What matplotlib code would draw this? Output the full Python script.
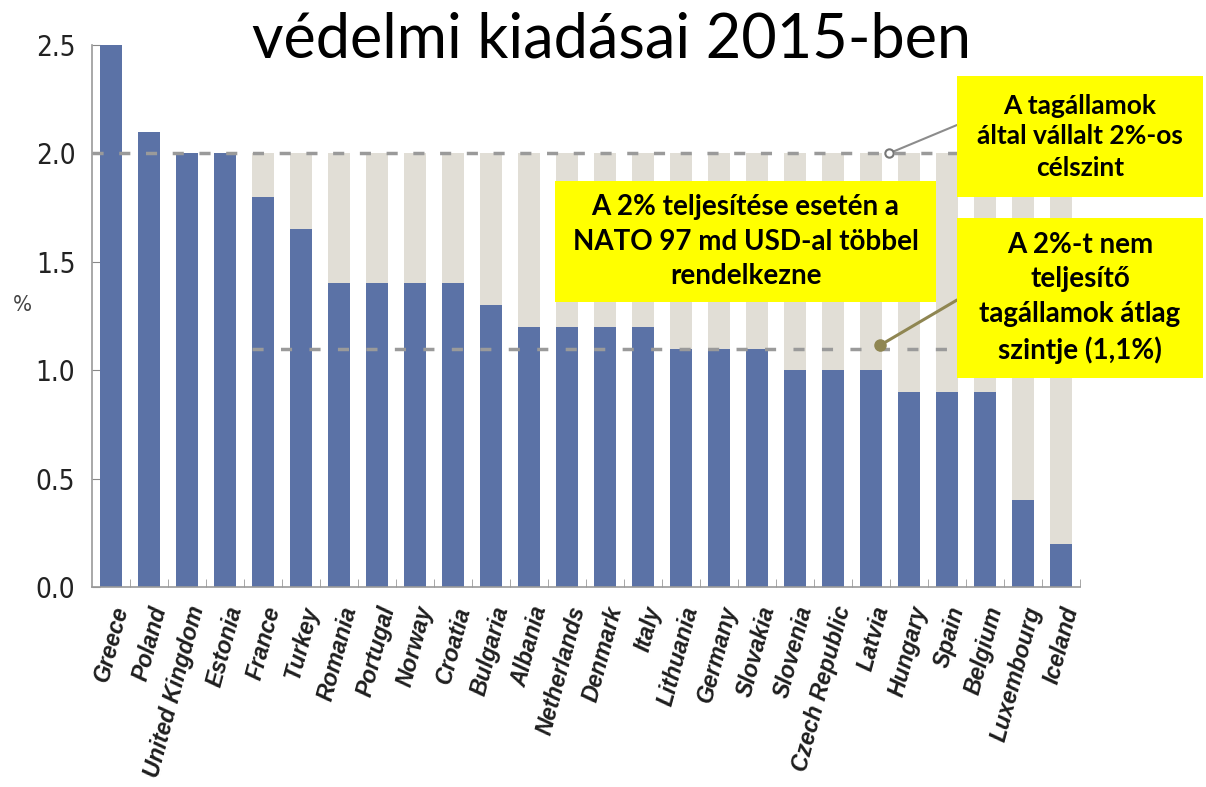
"""NATO tagállamok védelmi kiadásai 2015-ben (GDP %)."""

import matplotlib
matplotlib.use("Agg")
import matplotlib.pyplot as plt
from matplotlib.patches import Rectangle

countries = ["Greece", "Poland", "United Kingdom", "Estonia", "France", "Turkey",
             "Romania", "Portugal", "Norway", "Croatia", "Bulgaria", "Albania",
             "Netherlands", "Denmark", "Italy", "Lithuania", "Germany", "Slovakia",
             "Slovenia", "Czech Republic", "Latvia", "Hungary", "Spain", "Belgium",
             "Luxembourg", "Iceland"]
spending = [2.5, 2.1, 2.0, 2.0, 1.8, 1.65, 1.4, 1.4, 1.4, 1.4, 1.3, 1.2, 1.2, 1.2,
            1.2, 1.1, 1.1, 1.1, 1.0, 1.0, 1.0, 0.9, 0.9, 0.9, 0.4, 0.2]
target = 2.0
avg_below = 1.1
yticks = [0.0, 0.5, 1.0, 1.5, 2.0, 2.5]

title = "védelmi kiadásai 2015-ben"
box_gap = "A 2% teljesítése esetén a\nNATO 97 md USD-al többel\nrendelkezne"
box_target = "A tagállamok\náltal vállalt 2%-os\ncélszint"
box_avg = "A 2%-t nem\nteljesítő\ntagállamok átlag\nszintje (1,1%)"

BLUE = "#5b72a6"
GREY = "#e1ded6"
YELLOW = "#ffff00"
NARROW = ["Liberation Sans Narrow", "DejaVu Sans Condensed", "DejaVu Sans"]

W, H = 1206, 787
fig = plt.figure(figsize=(W / 100, H / 100), dpi=100)
ax = fig.add_axes([92 / W, 1 - 587 / H, (1080 - 92) / W, (587 - 45) / H])

x = list(range(len(countries)))
gap = [max(target - v, 0) for v in spending]
ax.bar(x, spending, width=0.56, color=BLUE, zorder=2)
ax.bar(x, gap, bottom=spending, width=0.56, color=GREY, zorder=2)

# reference lines
ax.axhline(target, color="#9a9a9a", lw=2.5, ls=(0, (3.2, 4.5)), zorder=3)
first_below = next(i for i, v in enumerate(spending) if v < target)
ax.hlines(avg_below, first_below - 0.28, len(countries) - 0.5, color="#9a9a9a",
          lw=2.5, ls=(0, (3.2, 5)), zorder=3)

ax.set_xlim(-0.5, len(countries) - 0.5)
ax.set_ylim(0, 2.5)
ax.set_yticks(yticks)
ax.set_yticklabels([f"{t:.1f}" for t in yticks], family=NARROW,
                   fontstretch="condensed", fontsize=20, color="#222222")
ax.tick_params(axis="y", direction="in", length=6, color="#888888", pad=12)

ax.set_xticks(x)
ax.set_xticklabels(countries, rotation=75, ha="right", rotation_mode="anchor",
                   family="Liberation Sans", style="italic", fontweight="bold",
                   fontsize=16.5, color="#1e1e1e")
ax.tick_params(axis="x", length=0, pad=12)
ax.set_xticks([i + 0.5 for i in x[:-1]] + [len(countries) - 0.5], minor=True)
ax.tick_params(axis="x", which="minor", direction="in", length=6, color="#999999")

for side in ["top", "right"]:
    ax.spines[side].set_visible(False)
for side in ["left", "bottom"]:
    ax.spines[side].set_color("#999999")
    ax.spines[side].set_linewidth(1.2)

fig.text(22 / W, 1 - 305 / H, "%", fontsize=16, color="#444444", family=NARROW,
         fontstretch="condensed", ha="center", va="center")

fig.text(612 / W, 1 - 40 / H, title, fontsize=44, family="Lato", ha="center",
         va="center", color="black")


def yellow_box(x0, y0, x1, y1, text, size, spacing):
    fig.patches.append(Rectangle((x0 / W, 1 - y1 / H), (x1 - x0) / W, (y1 - y0) / H,
                                 transform=fig.transFigure, facecolor=YELLOW,
                                 edgecolor="none", zorder=5))
    fig.text((x0 + x1) / 2 / W, 1 - (y0 + y1) / 2 / H, text, ha="center",
             va="center", multialignment="center", fontsize=size, fontweight="bold",
             family="Lato", linespacing=spacing, zorder=6)


yellow_box(555, 181, 936, 302, box_gap, 20, 1.4)
yellow_box(957, 76, 1203, 197, box_target, 19, 1.35)
yellow_box(957, 218, 1203, 378, box_avg, 20, 1.42)

# leader lines from the boxes to the reference lines
ax.annotate("", xy=(20.47, target), xycoords="data",
            xytext=(957, H - 125), textcoords="figure pixels",
            arrowprops=dict(arrowstyle="-", color="#8c8c8c", lw=1.5,
                            shrinkA=0, shrinkB=0), zorder=4)
ax.plot([20.47], [target], marker="o", ms=6, mfc="white", mec="#777777", mew=1.5,
        zorder=4)
ax.annotate("", xy=(20.24, avg_below + 0.015), xycoords="data",
            xytext=(957, H - 300), textcoords="figure pixels",
            arrowprops=dict(arrowstyle="-", color="#8f8652", lw=2.2,
                            shrinkA=0, shrinkB=0), zorder=4)
ax.plot([20.24], [avg_below + 0.015], marker="o", ms=8, color="#8f8652", zorder=4)

fig.savefig("out.png", dpi=100)
